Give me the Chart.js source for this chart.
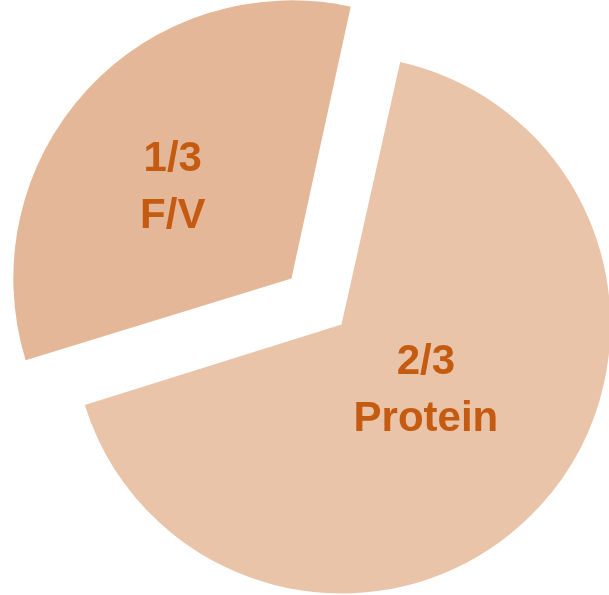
<!DOCTYPE html>
<html>
<head>
<meta charset="utf-8">
<script src="https://cdn.jsdelivr.net/npm/chart.js@4"></script>
<style>
  html, body { margin: 0; padding: 0; background: #ffffff; }
  #wrap { width: 609px; height: 595px; }
</style>
</head>
<body>
<div id="wrap"><canvas id="plateChart" width="609" height="595"></canvas></div>
<script>
const sliceNames = ['F/V', 'Protein'];
const sliceValues = [1, 2];
const sliceFractions = ['1/3', '2/3'];
const sliceColors = ['#e3b797', '#e9c4a9'];
const labelColor = '#c55a11';

// F/V is pulled away from the centre, Protein stays put
const sliceOffsets = [272, 0];
// label placement: share of the radius along the bisector, plus a sideways nudge in px
const labelDepth = [0.553, 0.397];
const labelSide = [-13.6, -8.6];

const sliceLabels = {
    id: 'sliceLabels',
    afterDatasetsDraw(chart) {
        const { ctx } = chart;
        const arcs = chart.getDatasetMeta(0).data;
        ctx.save();
        ctx.fillStyle = labelColor;
        ctx.font = 'bold 42px "Liberation Sans", Arial, sans-serif';
        ctx.textAlign = 'center';
        ctx.textBaseline = 'middle';
        arcs.forEach((arc, i) => {
            const p = arc.getProps(['x', 'y', 'startAngle', 'endAngle', 'outerRadius'], true);
            const mid = (p.startAngle + p.endAngle) / 2;
            const along = sliceOffsets[i] / 4 + p.outerRadius * labelDepth[i];
            const cx = p.x + Math.cos(mid) * along - Math.sin(mid) * labelSide[i];
            const cy = p.y + Math.sin(mid) * along + Math.cos(mid) * labelSide[i];
            ctx.fillText(sliceFractions[i], cx, cy - 28.5);
            ctx.fillText(sliceNames[i], cx, cy + 28.5);
        });
        ctx.restore();
    }
};

new Chart(document.getElementById('plateChart').getContext('2d'), {
    type: 'pie',
    data: {
        labels: sliceNames,
        datasets: [{
            data: sliceValues,
            backgroundColor: sliceColors,
            borderWidth: 0,
            offset: sliceOffsets,
            hoverOffset: 0
        }]
    },
    options: {
        responsive: false,
        animation: false,
        events: [],
        rotation: 252.6,
        radius: 269,
        layout: { padding: { left: 74, top: 54, right: 0, bottom: 0 } },
        plugins: {
            legend: { display: false },
            tooltip: { enabled: false }
        }
    },
    plugins: [sliceLabels]
});
</script>
</body>
</html>
